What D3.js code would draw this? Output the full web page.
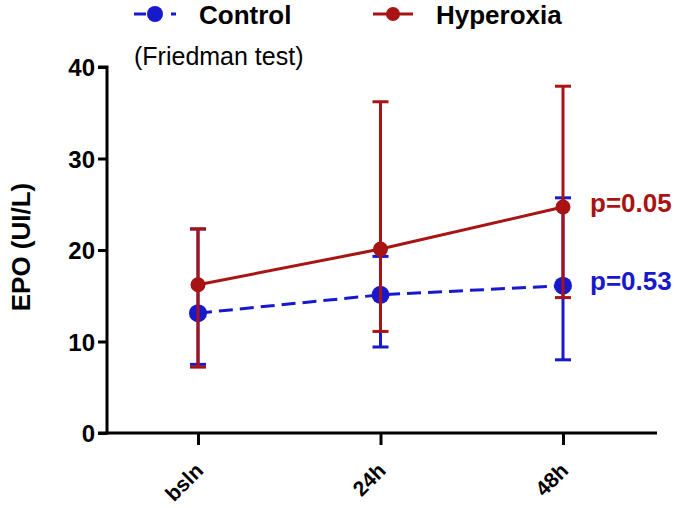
<!DOCTYPE html>
<html lang="en">
<head>
    <meta charset="UTF-8">
    <title>EPO</title>
    <script src="https://d3js.org/d3.v7.min.js"></script>
    <style>
        body { margin: 0; background: #ffffff; }
        svg { display: block; font-family: "Liberation Sans", Arial, sans-serif; }
    </style>
</head>
<body>
    <div id="chart"></div>
    <script>
        // data
        const timepoints = ["bsln", "24h", "48h"];
        const controlMean = [13.1, 15.1, 16.1];
        const controlLow = [7.5, 9.4, 8.0];
        const controlHigh = [22.3, 19.3, 25.7];
        const hyperMean = [16.2, 20.1, 24.7];
        const hyperLow = [7.2, 11.1, 14.8];
        const hyperHigh = [22.3, 36.2, 37.9];
        const yTicks = [0, 10, 20, 30, 40];
        const pLabels = ["p=0.05", "p=0.53"];

        const width = 685, height = 508;
        const red = "#a81414", blue = "#1818cc";

        const svg = d3.select("#chart").append("svg")
            .attr("width", width)
            .attr("height", height);

        const y = d3.scaleLinear().domain([0, 40]).range([433, 67]);
        const x = d3.scalePoint().domain(timepoints).range([198, 563]);

        // axes
        const yAxis = svg.append("g")
            .attr("transform", "translate(107,0)")
            .call(d3.axisLeft(y).tickValues(yTicks).tickSize(9).tickPadding(3));
        yAxis.select(".domain").attr("stroke-width", 3).attr("d", "M-9,67H0V433H-9");
        yAxis.selectAll(".tick line").attr("stroke-width", 3);
        yAxis.selectAll(".tick text")
            .attr("font-size", 24).attr("font-weight", "bold").attr("fill", "#000")
            .attr("dy", "0.36em");

        const xAxis = svg.append("g")
            .attr("transform", "translate(0,433)")
            .call(d3.axisBottom(x).tickSize(12));
        xAxis.select(".domain").attr("stroke-width", 3).attr("d", "M107,0H657");
        xAxis.selectAll(".tick line").attr("stroke-width", 3);
        xAxis.selectAll(".tick text")
            .attr("font-size", 21).attr("font-weight", "bold").attr("fill", "#000")
            .attr("text-anchor", "end")
            .attr("x", 0).attr("y", 0).attr("dy", 0)
            .attr("transform", "translate(6,39) rotate(-45)");

        svg.append("text")
            .attr("transform", "translate(30,247) rotate(-90)")
            .attr("text-anchor", "middle")
            .attr("font-size", 26).attr("font-weight", "bold")
            .text("EPO (UI/L)");

        function drawSeries(mean, low, high, color, dash, r) {
            const g = svg.append("g");
            // error bars
            timepoints.forEach((t, i) => {
                const cx = x(t);
                g.append("line").attr("x1", cx).attr("x2", cx)
                    .attr("y1", y(low[i])).attr("y2", y(high[i]))
                    .attr("stroke", color).attr("stroke-width", 3);
                [low[i], high[i]].forEach(v => {
                    g.append("line").attr("x1", cx - 8).attr("x2", cx + 8)
                        .attr("y1", y(v)).attr("y2", y(v))
                        .attr("stroke", color).attr("stroke-width", 3);
                });
            });
            g.append("path")
                .datum(mean)
                .attr("d", d3.line().x((d, i) => x(timepoints[i])).y(d => y(d)))
                .attr("fill", "none").attr("stroke", color).attr("stroke-width", 3)
                .attr("stroke-dasharray", dash);
            g.selectAll("circle").data(mean).join("circle")
                .attr("cx", (d, i) => x(timepoints[i]))
                .attr("cy", d => y(d))
                .attr("r", r).attr("fill", color);
        }

        drawSeries(controlMean, controlLow, controlHigh, blue, "14,7", 9);
        drawSeries(hyperMean, hyperLow, hyperHigh, red, null, 7.5);

        // p-values
        svg.append("text").attr("x", 590).attr("y", y(hyperMean[2]) + 5)
            .attr("font-size", 26).attr("font-weight", "bold").attr("fill", red)
            .text(pLabels[0]);
        svg.append("text").attr("x", 590).attr("y", y(controlMean[2]) + 4)
            .attr("font-size", 26).attr("font-weight", "bold").attr("fill", blue)
            .text(pLabels[1]);

        // legend
        const leg = svg.append("g");
        leg.append("line").attr("x1", 134).attr("x2", 176).attr("y1", 14).attr("y2", 14)
            .attr("stroke", blue).attr("stroke-width", 3).attr("stroke-dasharray", "12,25,5");
        leg.append("circle").attr("cx", 155).attr("cy", 14).attr("r", 8).attr("fill", blue);
        leg.append("text").attr("x", 199).attr("y", 24)
            .attr("font-size", 26).attr("font-weight", "bold").text("Control");

        leg.append("line").attr("x1", 373).attr("x2", 413).attr("y1", 14).attr("y2", 14)
            .attr("stroke", red).attr("stroke-width", 3);
        leg.append("circle").attr("cx", 393).attr("cy", 14).attr("r", 7).attr("fill", red);
        leg.append("text").attr("x", 436).attr("y", 24)
            .attr("font-size", 26).attr("font-weight", "bold").text("Hyperoxia");

        svg.append("text").attr("x", 134).attr("y", 65)
            .attr("font-size", 25).text("(Friedman test)");
    </script>
</body>
</html>
